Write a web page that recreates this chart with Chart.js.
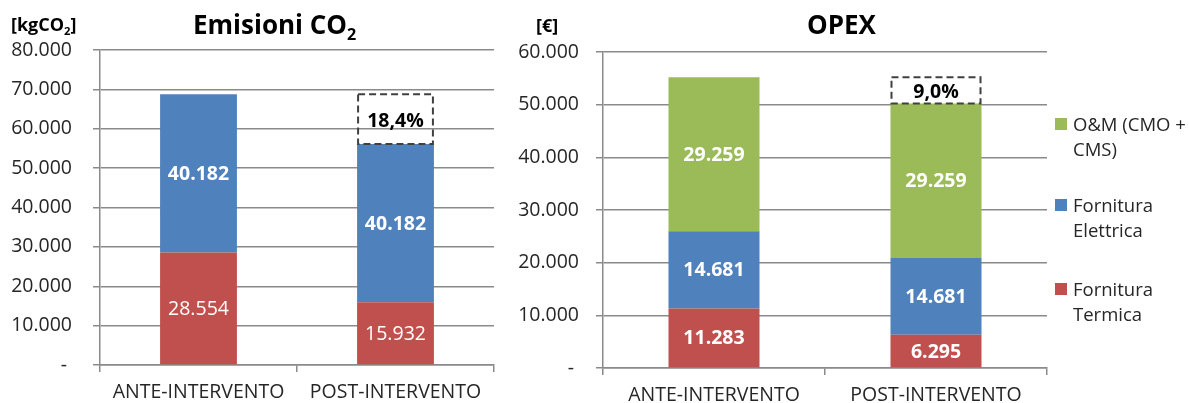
<!DOCTYPE html>
<html><head><meta charset="utf-8">
<script src="https://cdn.jsdelivr.net/npm/chart.js@4.4.0/dist/chart.umd.min.js"></script>
<style>
html,body{margin:0;padding:0;background:#fff;}
body{width:1189px;height:403px;overflow:hidden;position:relative;font-family:"Open Sans",sans-serif;color:#000;}
.abs{position:absolute;white-space:nowrap;line-height:1;}
canvas{position:absolute;top:0;}
.title{font-weight:bold;font-size:26px;}
.unit{font-weight:bold;font-size:18px;}
sub{font-size:0.62em;vertical-align:-0.35em;line-height:0;}
.lg{position:absolute;left:1055px;font-size:18.5px;color:#262626;line-height:25px;}
.lg .sw{position:absolute;left:0;top:7px;width:12px;height:12px;}
.lg .tx{position:absolute;left:18px;top:0;white-space:nowrap;}
</style></head><body>
<canvas id="c1" width="500" height="403" style="left:0"></canvas>
<canvas id="c2" width="689" height="403" style="left:500px"></canvas>
<div class="abs unit" style="left:11px;top:15px">[kgCO<sub>2</sub>]</div>
<div class="abs title" style="left:193px;top:11px">Emisioni CO<sub>2</sub></div>
<div class="abs unit" style="left:536px;top:16px">[€]</div>
<div class="abs title" style="left:807px;top:11px">OPEX</div>
<div id="legend"></div>
<script>
// ---- data ----
const categories = ['ANTE-INTERVENTO', 'POST-INTERVENTO'];
const co2Termica = [28554, 15932];
const co2Elettrica = [40182, 40182];
const opexTermica = [11283, 6295];
const opexElettrica = [14681, 14681];
const opexOM = [29259, 29259];
const co2Reduction = '18,4%';
const opexReduction = '9,0%';
const nameTermica = ['Fornitura', 'Termica'];
const nameElettrica = ['Fornitura', 'Elettrica'];
const nameOM = ['O&M (CMO +', 'CMS)'];
const co2Max = 80000, opexMax = 60000, tickStep = 10000;

const RED = '#C0504D', BLUE = '#4F81BD', GREEN = '#9BBB59';
const GRID = '#8a8a8a';

function fmt(v) {
  if (v === 0) return '- ';
  return String(Math.round(v)).replace(/\B(?=(\d{3})+(?!\d))/g, '.');
}

Chart.defaults.font.family = '"Open Sans", sans-serif';
Chart.defaults.font.size = 19.5;
Chart.defaults.color = '#262626';
Chart.defaults.devicePixelRatio = 1;

const valueLabels = {
  id: 'valueLabels',
  afterDatasetsDraw(chart) {
    const ctx = chart.ctx;
    chart.data.datasets.forEach((ds, i) => {
      const meta = chart.getDatasetMeta(i);
      meta.data.forEach((el, j) => {
        ctx.save();
        ctx.font = (ds.labelBold ? 'bold ' : '') + '19.5px "Open Sans"';
        ctx.fillStyle = '#fff';
        ctx.textAlign = 'center';
        ctx.textBaseline = 'middle';
        ctx.fillText(fmt(ds.data[j]), el.x, (el.y + el.base) / 2 + 1);
        ctx.restore();
      });
    });
  }
};

const reductionBox = {
  id: 'reductionBox',
  afterDatasetsDraw(chart, args, opts) {
    const ctx = chart.ctx;
    const dss = chart.data.datasets;
    const tot = j => dss.reduce((s, d) => s + d.data[j], 0);
    const ys = chart.scales.y;
    const yTop = ys.getPixelForValue(tot(0));
    const yBot = ys.getPixelForValue(tot(1));
    const el = chart.getDatasetMeta(dss.length - 1).data[1];
    const x0 = el.x - el.width / 2, x1 = el.x + el.width / 2;
    ctx.save();
    ctx.setLineDash([7, 4]);
    ctx.lineWidth = 2;
    ctx.strokeStyle = '#404040';
    ctx.strokeRect(x0 + 1, yTop, x1 - x0 - 2, yBot - yTop);
    ctx.setLineDash([]);
    ctx.font = 'bold 19.5px "Open Sans"';
    ctx.fillStyle = '#000';
    ctx.textAlign = 'center';
    ctx.textBaseline = 'middle';
    ctx.fillText(opts.text, (x0 + x1) / 2, (yTop + yBot) / 2 + 2);
    ctx.restore();
  }
};

function makeChart(id, datasets, max, yWidth, yPad, xHeight, padding, barPct, text) {
  return new Chart(document.getElementById(id), {
    type: 'bar',
    data: { labels: categories, datasets },
    plugins: [valueLabels, reductionBox],
    options: {
      responsive: false,
      animation: false,
      layout: { padding },
      plugins: {
        legend: { display: false },
        tooltip: { enabled: false },
        reductionBox: { text }
      },
      datasets: { bar: { categoryPercentage: 1, barPercentage: barPct, borderWidth: 0 } },
      scales: {
        x: {
          stacked: true,
          grid: { drawOnChartArea: false, drawTicks: true, tickLength: 7, color: GRID, lineWidth: 1.5, offset: true },
          border: { color: GRID, width: 1.5 },
          ticks: { padding: 9, color: '#262626' },
          afterFit(s) { s.height = xHeight; }
        },
        y: {
          stacked: true,
          min: 0, max: max,
          grid: { color: GRID, lineWidth: 1.5, tickLength: 7 },
          border: { color: GRID, width: 1.5 },
          ticks: { stepSize: tickStep, padding: yPad, callback: v => fmt(v), color: '#262626' },
          afterFit(s) { s.width = yWidth; }
        }
      }
    }
  });
}

makeChart('c1', [
  { label: nameTermica.join(' '), data: co2Termica, backgroundColor: RED, labelBold: false },
  { label: nameElettrica.join(' '), data: co2Elettrica, backgroundColor: BLUE, labelBold: true }
], co2Max, 100, 21, 38, { top: 50, right: 6, bottom: 0, left: 0 }, 0.39, co2Reduction);

makeChart('c2', [
  { label: nameTermica.join(' '), data: opexTermica, backgroundColor: RED, labelBold: true },
  { label: nameElettrica.join(' '), data: opexElettrica, backgroundColor: BLUE, labelBold: true },
  { label: nameOM.join(' '), data: opexOM, backgroundColor: GREEN, labelBold: true }
], opexMax, 103, 17, 35, { top: 52, right: 142, bottom: 0, left: 0 }, 0.41, opexReduction);

// legend (reverse order, like the reference)
const legendItems = [
  { lines: nameOM, color: GREEN, top: 111 },
  { lines: nameElettrica, color: BLUE, top: 192 },
  { lines: nameTermica, color: RED, top: 276 }
];
const lg = document.getElementById('legend');
legendItems.forEach(it => {
  const d = document.createElement('div');
  d.className = 'lg';
  d.style.top = it.top + 'px';
  const sw = document.createElement('div');
  sw.className = 'sw'; sw.style.background = it.color;
  const tx = document.createElement('div');
  tx.className = 'tx';
  it.lines.forEach((l, k) => {
    if (k) tx.appendChild(document.createElement('br'));
    tx.appendChild(document.createTextNode(l));
  });
  d.appendChild(sw); d.appendChild(tx);
  lg.appendChild(d);
});
</script>
</body></html>
